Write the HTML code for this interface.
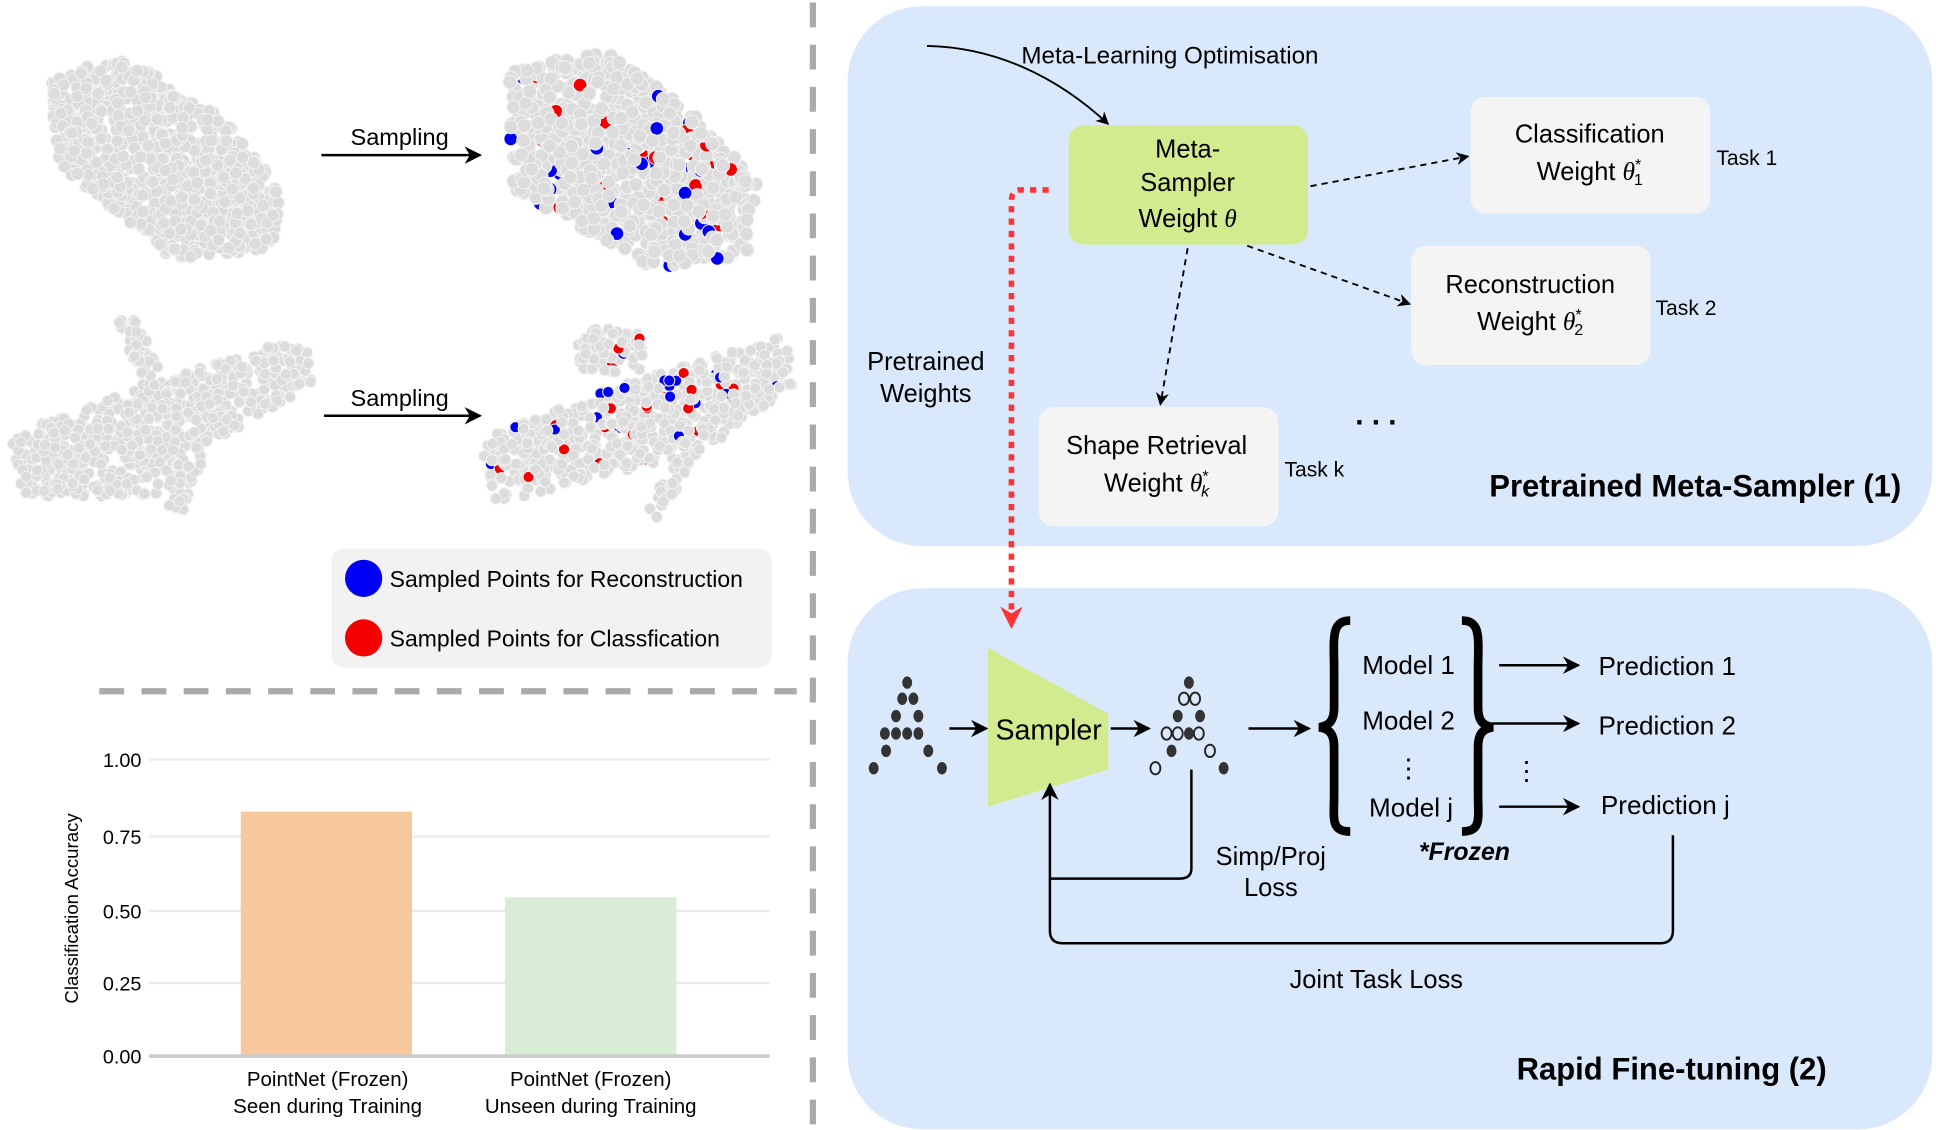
<!DOCTYPE html>
<html><head><meta charset="utf-8"><style>
html,body{margin:0;padding:0;background:#fff;width:1936px;height:1130px;overflow:hidden}
svg{display:block}
text{font-family:"Liberation Sans",sans-serif;fill:#000}
</style></head><body>
<svg id="s" width="1936" height="1130" viewBox="0 0 1560 910.5" xmlns="http://www.w3.org/2000/svg">
<defs>
<marker id="ah" viewBox="0 0 10 10" refX="9" refY="5" markerWidth="7" markerHeight="7" orient="auto"><path d="M0,0 L10,5 L0,10 L3,5 z" fill="#000"/></marker>
<marker id="ahr" viewBox="0 0 10 10" refX="9" refY="5" markerWidth="4" markerHeight="4" orient="auto"><path d="M0,0 L10,5 L0,10 L3,5 z" fill="#f33"/></marker>
</defs>
<g id="clouds"></g>
<!-- sampling arrows -->
<text x="322" y="117" font-size="19" text-anchor="middle">Sampling</text>
<line x1="259" y1="125" x2="387" y2="125" stroke="#000" stroke-width="2" marker-end="url(#ah)"/>
<text x="322" y="327" font-size="19" text-anchor="middle">Sampling</text>
<line x1="261" y1="335" x2="387" y2="335" stroke="#000" stroke-width="2" marker-end="url(#ah)"/>
<!-- legend -->
<rect x="267" y="442" width="355" height="96" rx="10" fill="#f2f2f2"/>
<circle cx="293" cy="466" r="15" fill="#0000f5"/>
<text x="314" y="473" font-size="18.5">Sampled Points for Reconstruction</text>
<circle cx="293" cy="514" r="15" fill="#f50000"/>
<text x="314" y="521" font-size="18.5">Sampled Points for Classfication</text>
<!-- separators -->
<line x1="655" y1="2" x2="655" y2="910" stroke="#aaa" stroke-width="5" stroke-dasharray="20 14"/>
<line x1="80" y1="557" x2="642" y2="557" stroke="#aaa" stroke-width="5" stroke-dasharray="20 14"/>
<!-- chart -->
<g stroke="#ebebeb" stroke-width="2">
<line x1="120" y1="612" x2="620" y2="612"/><line x1="120" y1="674" x2="620" y2="674"/>
<line x1="120" y1="734" x2="620" y2="734"/><line x1="120" y1="792" x2="620" y2="792"/>
</g>
<rect x="194" y="654" width="138" height="197" fill="#f7c89b"/>
<rect x="407" y="723" width="138" height="128" fill="#d9ecd5"/>
<line x1="120" y1="851" x2="620" y2="851" stroke="#ccc" stroke-width="3"/>
<g font-size="16" text-anchor="end" fill="#222">
<text x="114" y="618">1.00</text><text x="114" y="680">0.75</text><text x="114" y="740">0.50</text><text x="114" y="798">0.25</text><text x="114" y="857">0.00</text>
</g>
<text transform="translate(63,732) rotate(-90)" font-size="15" text-anchor="middle" fill="#333">Classification Accuracy</text>
<g font-size="16.5" text-anchor="middle" fill="#222">
<text x="264" y="875">PointNet (Frozen)</text><text x="264" y="897">Seen during Training</text>
<text x="476" y="875">PointNet (Frozen)</text><text x="476" y="897">Unseen during Training</text>
</g>
<!-- top panel -->
<rect x="683" y="5" width="874" height="435" rx="60" fill="#dae8fc"/>
<rect x="683" y="474" width="874" height="436" rx="60" fill="#dae8fc"/>
<text x="823" y="51" font-size="19.5">Meta-Learning Optimisation</text>
<path d="M747,37 C800,38 850,60 893,100" fill="none" stroke="#000" stroke-width="1.5" marker-end="url(#ah)"/>
<rect x="861" y="101" width="193" height="96" rx="12" fill="#d3eb8f"/>
<g font-size="20.5" text-anchor="middle">
<text x="957" y="127">Meta-</text><text x="957" y="154">Sampler</text><text x="957" y="183">Weight <tspan font-style="italic" font-family="Liberation Serif">θ</tspan></text>
</g>
<rect x="1185" y="78" width="193" height="94" rx="12" fill="#f4f4f4"/>
<g font-size="20.5" text-anchor="middle">
<text x="1281" y="115">Classification</text><text x="1281" y="145">Weight  <tspan font-style="italic" font-family="Liberation Serif">θ</tspan><tspan font-size="13" dy="-8">*</tspan><tspan font-size="13" dy="12" dx="-6">1</tspan></text>
</g>
<text x="1383" y="133" font-size="17">Task 1</text>
<rect x="1137" y="198" width="193" height="96" rx="12" fill="#f4f4f4"/>
<g font-size="20.5" text-anchor="middle">
<text x="1233" y="236">Reconstruction</text><text x="1233" y="266">Weight <tspan font-style="italic" font-family="Liberation Serif">θ</tspan><tspan font-size="13" dy="-8">*</tspan><tspan font-size="13" dy="12" dx="-6">2</tspan></text>
</g>
<text x="1334" y="254" font-size="17">Task 2</text>
<rect x="837" y="328" width="193" height="96" rx="12" fill="#f4f4f4"/>
<g font-size="20.5" text-anchor="middle">
<text x="932" y="366">Shape Retrieval</text><text x="932" y="396">Weight <tspan font-style="italic" font-family="Liberation Serif">θ</tspan><tspan font-size="13" dy="-8">*</tspan><tspan font-size="13" dy="12" dx="-6" font-style="italic">k</tspan></text>
</g>
<text x="1035" y="384" font-size="17">Task k</text>
<text x="1092" y="342" font-size="24" font-weight="bold">. . .</text>
<g stroke="#000" stroke-width="1.5" stroke-dasharray="5 4" fill="none">
<line x1="1056" y1="150" x2="1183" y2="126" marker-end="url(#ah)"/>
<line x1="1005" y1="198" x2="1136" y2="245" marker-end="url(#ah)"/>
<line x1="957" y1="200" x2="935" y2="326" marker-end="url(#ah)"/>
</g>
<text x="746" y="298" font-size="20.5" text-anchor="middle">Pretrained</text>
<text x="746" y="324" font-size="20.5" text-anchor="middle">Weights</text>
<text x="1532" y="400" font-size="25" font-weight="bold" text-anchor="end">Pretrained Meta-Sampler (1)</text>
<path d="M845,153 L822,153 Q815,153 815,162 L815,505" fill="none" stroke="#f33" stroke-width="4.5" stroke-dasharray="5 5" marker-end="url(#ahr)"/>
<!-- bottom -->
<polygon points="796,522 893,575 893,620 796,650" fill="#d3eb8f"/>
<text x="845" y="596" font-size="23" text-anchor="middle">Sampler</text>
<g id="dots"></g>
<g stroke="#000" stroke-width="2" fill="none">
<line x1="765" y1="587" x2="795" y2="587" marker-end="url(#ah)"/>
<line x1="895" y1="587" x2="926" y2="587" marker-end="url(#ah)"/>
<line x1="1006" y1="587" x2="1055" y2="587" marker-end="url(#ah)"/>
<line x1="1208" y1="536" x2="1272" y2="536" marker-end="url(#ah)"/>
<line x1="1202" y1="583" x2="1272" y2="583" marker-end="url(#ah)"/>
<line x1="1208" y1="650" x2="1272" y2="650" marker-end="url(#ah)"/>
<path d="M960,620 L960,700 Q960,708 950,708 L846,708"/>
<path d="M1348,673 L1348,750 Q1348,760 1338,760 L856,760 Q846,760 846,750 L846,632" marker-end="url(#ah)"/>
</g>
<!-- braces -->
<path d="M1088,500 C1072,500 1075,515 1075,540 L1075,570 C1075,582 1070,585 1063,586 C1070,587 1075,590 1075,602 L1075,640 C1075,660 1072,670 1088,670" fill="none" stroke="#000" stroke-width="7"/>
<path d="M1178,500 C1194,500 1191,515 1191,540 L1191,570 C1191,582 1196,585 1203,586 C1196,587 1191,590 1191,602 L1191,640 C1191,660 1194,670 1178,670" fill="none" stroke="#000" stroke-width="7"/>
<g font-size="21" text-anchor="middle">
<text x="1135" y="543">Model 1</text><text x="1135" y="588">Model 2</text><text x="1135" y="626">⋮</text><text x="1137" y="658">Model j</text>
<text x="1230" y="628">⋮</text>
</g>
<g font-size="21">
<text x="1288" y="544">Prediction 1</text><text x="1288" y="592">Prediction 2</text><text x="1290" y="656">Prediction j</text>
</g>
<text x="1180" y="693" font-size="20" font-weight="bold" font-style="italic" text-anchor="middle">*Frozen</text>
<text x="1024" y="697" font-size="20.5" text-anchor="middle">Simp/Proj</text>
<text x="1024" y="722" font-size="20.5" text-anchor="middle">Loss</text>
<text x="1109" y="796" font-size="20.5" text-anchor="middle">Joint Task Loss</text>
<text x="1347" y="870" font-size="25" font-weight="bold" text-anchor="middle">Rapid Fine-tuning (2)</text>
</svg>
<script>
(function(){
var NS="http://www.w3.org/2000/svg";
var seed=7;function r(){seed=(seed*16807)%2147483647;return seed/2147483647;}
function inside(p,x,y){var c=false;for(var i=0,j=p.length-1;i<p.length;j=i++){var xi=p[i][0],yi=p[i][1],xj=p[j][0],yj=p[j][1];if(((yi>y)!=(yj>y))&&(x<(xj-xi)*(y-yi)/(yj-yi)+xi))c=!c;}return c;}
var g=document.getElementById('clouds');
function cloud(polys,n,rad,colors){
 var bx=[1e9,1e9,-1e9,-1e9];polys.forEach(function(p){p.forEach(function(q){bx[0]=Math.min(bx[0],q[0]);bx[1]=Math.min(bx[1],q[1]);bx[2]=Math.max(bx[2],q[0]);bx[3]=Math.max(bx[3],q[1]);});});
 var k=0,t=0;while(k<n&&t<n*20){t++;var x=bx[0]+r()*(bx[2]-bx[0]),y=bx[1]+r()*(bx[3]-bx[1]);
  if(!polys.some(function(p){return inside(p,x,y);}))continue;k++;
  var c=document.createElementNS(NS,'circle');c.setAttribute('cx',x);c.setAttribute('cy',y);c.setAttribute('r',rad);
  var f='#dcdcdc';if(colors){var v=r();if(v<0.035)f='#0000f0';else if(v<0.07)f='#f00000';}
  c.setAttribute('fill',f);c.setAttribute('stroke','#f2f2f2');c.setAttribute('stroke-width','0.8');g.appendChild(c);}
}
cloud([[[42,62],[100,45],[180,95],[225,150],[222,200],[140,210],[44,130]]],900,5,false);
cloud([[[410,58],[485,40],[560,90],[612,150],[602,205],[530,218],[412,152]]],900,5.5,true);
cloud([[[5,352],[120,310],[245,270],[252,310],[165,360],[160,400],[20,400]],[[95,258],[110,258],[132,300],[115,310]],[[138,375],[160,380],[148,412],[135,410]]],700,4.5,false);
cloud([[[385,355],[500,310],[632,270],[640,310],[565,365],[530,418],[520,410],[545,370],[400,405]],[[462,280],[480,262],[520,270],[515,300],[470,300]]],750,4.5,true);
var d=document.getElementById('dots');
function dot(x,y,h){var c=document.createElementNS(NS,'ellipse');c.setAttribute('cx',x);c.setAttribute('cy',y);c.setAttribute('rx',4);c.setAttribute('ry',5);
 if(h){c.setAttribute('fill','none');c.setAttribute('stroke','#222');c.setAttribute('stroke-width','1.5');}else c.setAttribute('fill','#333');d.appendChild(c);}
var A=[[731,550],[727,563],[736,563],[722,577],[740,577],[713,591],[722,591],[731,591],[740,591],[714,605],[748,605],[704,619],[759,619]];
A.forEach(function(p){dot(p[0],p[1],false);});
var B=[[958,550,0],[954,563,1],[963,563,1],[949,577,0],[967,577,0],[940,591,1],[949,591,1],[958,591,0],[966,591,1],[944,605,0],[975,605,1],[931,619,1],[986,619,0]];
B.forEach(function(p){dot(p[0],p[1],p[2]);});
})();
</script>
</body></html>
